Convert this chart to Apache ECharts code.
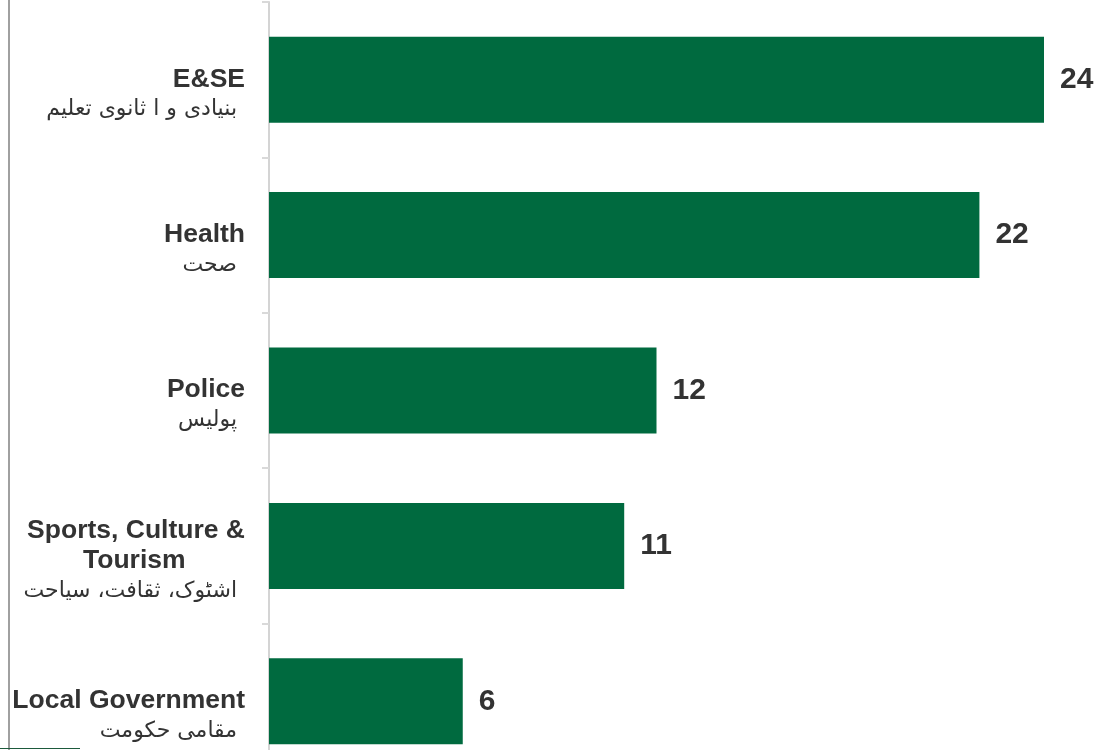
<!DOCTYPE html>
<html><head><meta charset="utf-8">
<script src="https://cdn.jsdelivr.net/npm/echarts@6/dist/echarts.min.js"></script>
<style>html,body{margin:0;padding:0;background:#fff}#c{width:1094px;height:750px}</style>
</head><body><div id="c"></div>
<script>
const categoriesEn = [["E&SE"], ["Health"], ["Police"], ["Sports, Culture &", "Tourism"], ["Local Government"]];
const categoriesUr = ["بنیادی و ا ثانوی تعلیم", "صحت", "پولیس", "اشٹوک، ثقافت، سیاحت", "مقامی حکومت"];
const values = [24, 22, 12, 11, 6];

const cats = categoriesEn.map((en, i) => i);
const chart = echarts.init(document.getElementById('c'));
chart.setOption({
  animation: false,
  grid: { left: 269, right: 50, top: 2, height: 777, containLabel: false, outerBoundsMode: 'none' },
  xAxis: { type: 'value', min: 0, max: 24, show: false },
  yAxis: {
    type: 'category', inverse: true, data: cats,
    axisLine: { show: true, lineStyle: { color: '#d4d4d4', width: 2 } },
    axisTick: { show: true, length: 7, lineStyle: { color: '#d9d9d9', width: 2 } },
    axisLabel: {
      margin: 24, align: 'right',
      formatter: (v, i) => {
        const en = categoriesEn[i];
        const lines = ['{en| }'];
        en.forEach((t, k) => lines.push((k === 0 ? '{en|' : '{en2|') + t + '}'));
        lines.push('{ur|' + categoriesUr[i] + '}');
        return lines.join('\n');
      },
      rich: {
        en: { fontFamily: 'Liberation Sans, Arial, sans-serif', fontWeight: 'bold', fontSize: 26.5, color: '#333', lineHeight: 30, align: 'right' },
        en2: { fontFamily: 'Liberation Sans, Arial, sans-serif', fontWeight: 'bold', fontSize: 26.5, color: '#333', lineHeight: 30, align: 'center' },
        ur: { fontFamily: 'DejaVu Sans, sans-serif', fontSize: 22, color: '#333', lineHeight: 31, align: 'right', padding: [0, 8, 0, 0] }
      }
    }
  },
  series: [{
    type: 'bar', data: values, barWidth: 86,
    itemStyle: { color: '#006a3f' },
    label: { show: true, position: 'right', distance: 16, fontFamily: 'Liberation Sans, Arial, sans-serif', fontWeight: 'bold', fontSize: 30, color: '#333' }
  }],
  graphic: [
    { type: 'line', shape: { x1: 9, y1: 0, x2: 9, y2: 750 }, style: { stroke: '#a0a0a0', lineWidth: 2 } },
    { type: 'line', shape: { x1: 0, y1: 748.5, x2: 80, y2: 748.5 }, style: { stroke: '#1d5a3c', lineWidth: 1 } }
  ]
});
</script></body></html>
